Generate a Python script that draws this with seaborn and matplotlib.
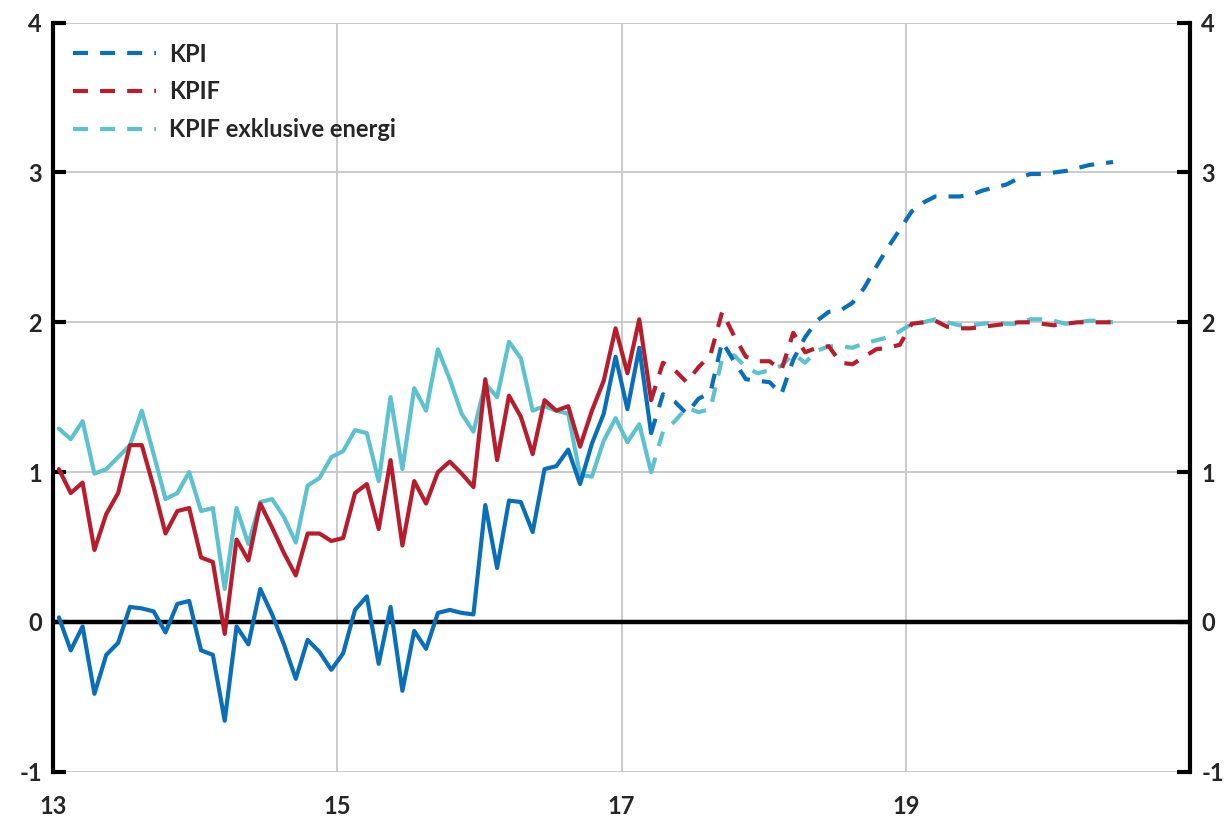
"""
KPI, KPIF och KPIF exklusive energi: utfall och prognos
"""
import numpy as np
import pandas as pd
import matplotlib
matplotlib.use("Agg")
import matplotlib.pyplot as plt
import seaborn as sns
from matplotlib.lines import Line2D

# utfall jan 2013 - mar 2017 (månadsvärden, procent)
kpi_outcome = [0.03, -0.19, -0.03, -0.48, -0.22, -0.14, 0.10, 0.09, 0.07, -0.07, 0.12, 0.14,
               -0.19, -0.22, -0.66, -0.03, -0.15, 0.22, 0.05, -0.15, -0.38, -0.12, -0.20, -0.32,
               -0.21, 0.08, 0.17, -0.28, 0.10, -0.46, -0.06, -0.18, 0.06, 0.08, 0.06, 0.05,
               0.78, 0.36, 0.81, 0.80, 0.60, 1.02, 1.04, 1.15, 0.92, 1.19, 1.39, 1.77,
               1.42, 1.83, 1.26]
kpif_outcome = [1.02, 0.86, 0.93, 0.48, 0.72, 0.86, 1.18, 1.18, 0.90, 0.59, 0.74, 0.76,
                0.43, 0.40, -0.08, 0.55, 0.41, 0.79, 0.63, 0.46, 0.31, 0.59, 0.59, 0.54,
                0.56, 0.86, 0.92, 0.62, 1.08, 0.51, 0.94, 0.79, 1.00, 1.07, 0.99, 0.90,
                1.62, 1.08, 1.51, 1.37, 1.12, 1.48, 1.41, 1.44, 1.17, 1.41, 1.61, 1.96,
                1.66, 2.02, 1.48]
kpif_xe_outcome = [1.29, 1.22, 1.34, 0.99, 1.02, 1.10, 1.18, 1.41, 1.12, 0.82, 0.86, 1.00,
                   0.74, 0.76, 0.22, 0.76, 0.52, 0.80, 0.82, 0.70, 0.53, 0.91, 0.96, 1.10,
                   1.14, 1.28, 1.26, 0.94, 1.50, 1.02, 1.56, 1.41, 1.82, 1.62, 1.39, 1.27,
                   1.59, 1.50, 1.87, 1.76, 1.41, 1.44, 1.41, 1.39, 0.98, 0.97, 1.21, 1.36,
                   1.20, 1.32, 1.00]

# prognos mar 2017 - jun 2020
kpi_forecast = [1.26, 1.52, 1.47, 1.39, 1.49, 1.53, 1.87, 1.74, 1.62, 1.61, 1.60, 1.52,
                1.75, 1.90, 2.01, 2.07, 2.08, 2.13, 2.23, 2.37, 2.50, 2.62, 2.74, 2.80,
                2.84, 2.84, 2.84, 2.85, 2.88, 2.90, 2.92, 2.96, 2.99, 2.99, 3.00, 3.01,
                3.03, 3.05, 3.06, 3.07]
kpif_forecast = [1.48, 1.73, 1.68, 1.60, 1.70, 1.78, 2.07, 1.91, 1.77, 1.74, 1.74, 1.68,
                 1.93, 1.80, 1.83, 1.84, 1.73, 1.72, 1.77, 1.82, 1.83, 1.85, 1.99, 2.00,
                 2.01, 1.97, 1.96, 1.96, 1.97, 1.98, 1.99, 2.00, 2.00, 1.99, 1.98, 1.99,
                 2.00, 2.00, 2.00, 2.00]
kpif_xe_forecast = [1.00, 1.27, 1.34, 1.43, 1.40, 1.42, 1.76, 1.78, 1.70, 1.66, 1.68, 1.71,
                    1.79, 1.73, 1.81, 1.84, 1.84, 1.83, 1.86, 1.88, 1.90, 1.94, 1.99, 2.00,
                    2.02, 2.00, 1.98, 1.98, 1.99, 2.00, 1.99, 1.99, 2.02, 2.02, 2.01, 1.99,
                    2.00, 2.01, 2.01, 2.00]

series_names = ["KPI", "KPIF", "KPIF exklusive energi"]
colors = ["#0A6FB9", "#B81D2D", "#5CC2D0"]
x_ticks = [13, 15, 17, 19]
y_ticks = [-1, 0, 1, 2, 3, 4]


def to_year(dates):
    # år med två siffror, mitt i månaden
    return (dates.year - 2000) + (dates.month - 0.5) / 12


outcome_dates = pd.date_range("2013-01-01", periods=len(kpi_outcome), freq="MS")
forecast_dates = pd.date_range(outcome_dates[-1], periods=len(kpi_forecast), freq="MS")

outcome = pd.DataFrame({"x": to_year(outcome_dates), "KPI": kpi_outcome,
                        "KPIF": kpif_outcome, "KPIF exklusive energi": kpif_xe_outcome})
forecast = pd.DataFrame({"x": to_year(forecast_dates), "KPI": kpi_forecast,
                         "KPIF": kpif_forecast, "KPIF exklusive energi": kpif_xe_forecast})

sns.set_theme(style="white")
plt.rcParams["font.family"] = ["Lato", "DejaVu Sans"]
plt.rcParams["font.weight"] = "bold"

fig = plt.figure(figsize=(12.29, 8.25), dpi=100)
ax = fig.add_axes([0.0431, 0.0646, 0.9252, 0.9079])

lw = 3.0
dash = (3.6, 2.9)

# ordning: ljusblå, röd, blå överst
for name, color in reversed(list(zip(series_names, colors))):
    sns.lineplot(data=outcome, x="x", y=name, color=color, lw=lw, ax=ax, zorder=4)
    sns.lineplot(data=forecast, x="x", y=name, color=color, lw=lw, ax=ax, zorder=4,
                 dashes=False, linestyle=(0, dash))

ax.axhline(0, color="black", lw=3.2, zorder=3)

ax.set_xlim(13, 21)
ax.set_ylim(-1, 4)
ax.set_xticks(x_ticks)
ax.set_yticks(y_ticks)
ax.set_xticklabels([str(t) for t in x_ticks])
ax.set_yticklabels([str(t) for t in y_ticks])
ax.grid(True, color="#CBCBCB", lw=1.4, zorder=0)
ax.set_axisbelow(True)
ax.set_xlabel("")
ax.set_ylabel("")

for side in ["top", "bottom"]:
    ax.spines[side].set_visible(False)
for side in ["left", "right"]:
    ax.spines[side].set_visible(True)
    ax.spines[side].set_color("black")
    ax.spines[side].set_linewidth(3)
    ax.spines[side].set_zorder(5)

ax.tick_params(axis="y", which="both", left=True, right=True, labelleft=True, labelright=True,
               direction="in", length=9.5, width=3, color="black", pad=8, labelsize=17)
ax.tick_params(axis="x", length=0, pad=17, labelsize=17)
for lab in ax.get_xticklabels() + ax.get_yticklabels():
    lab.set_fontweight("bold")

handles = [Line2D([0], [0], color=c, lw=lw, linestyle=(0, dash)) for c in colors]
leg = ax.legend(handles, series_names, loc="upper left", bbox_to_anchor=(0.0, 1.0),
                frameon=False, handlelength=3.5, handletextpad=0.55, labelspacing=0.62,
                borderaxespad=0.45, prop={"size": 17, "weight": "bold"})

plt.savefig("out.png", dpi=100)
plt.close()
